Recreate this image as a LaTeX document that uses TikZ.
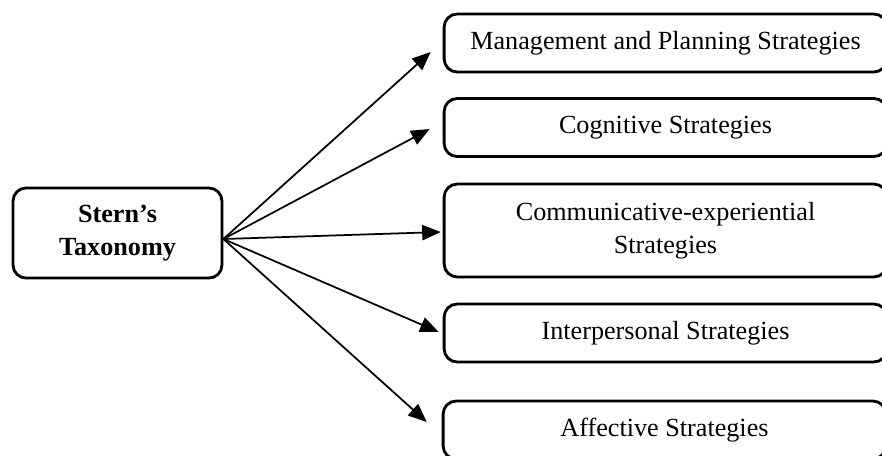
\documentclass[tikz,border=0pt]{standalone}
\usepackage{fontspec}
\setmainfont{Liberation Serif}
\usepackage{tikz}
\usetikzlibrary{arrows.meta}
\tikzstyle{base} = [rectangle, draw, line width=1.3pt, rounded corners=6pt, align=center, inner sep=0pt, font=\fontsize{12}{15}\selectfont]
\tikzstyle{root} = [base, minimum width=95.8pt, minimum height=41.3pt, font=\fontsize{12}{15}\selectfont\bfseries]
\tikzstyle{leaf} = [base, minimum width=203pt, minimum height=26.6pt]
\tikzstyle{leaftall} = [base, minimum width=203pt, minimum height=42.6pt]
\tikzstyle{line} = [draw, line width=0.8pt, -{Triangle[length=8.5pt,width=7pt]}]

\begin{document}
\begin{tikzpicture}[x=0.4585pt, y=-0.4585pt]
\useasboundingbox (0,0) rectangle (882,455);

\node [root] (S) at (117.5,233) {Stern’s\\Taxonomy};

\node [leaf] (M) at (665.5,43) {Management and Planning Strategies};
\node [leaf] (C) at (665.5,127.5) {Cognitive Strategies};
\node [leaftall] (E) at (665.5,230.5) {Communicative-experiential\\Strategies};
\node [leaf] (I) at (665.5,333) {Interpersonal Strategies};
\node [leaf] (A) at (664.5,430) {Affective Strategies};

% all arrows leave from one point just below the middle of the right side
\coordinate (0) at ([shift={(0,6)}]S.east);

\path [line] (0) -- ([shift={(-12,9)}]M.west);
\path [line] (0) -- ([shift={(-13,1.5)}]C.west);
\path [line] (0) -- ([shift={(-2,1.5)}]E.west);
\path [line] (0) -- ([shift={(-4,-1)}]I.west);
\path [line] (0) -- ([shift={(-15,-8)}]A.west);

\end{tikzpicture}
\end{document}
